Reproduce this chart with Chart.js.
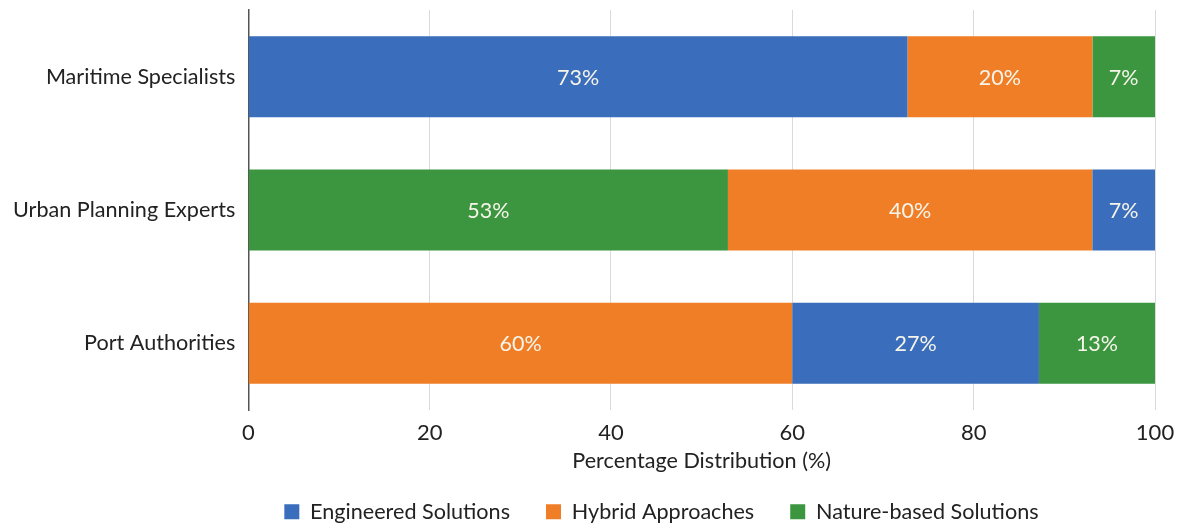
<!DOCTYPE html>
<html lang="en">
<head>
    <meta charset="UTF-8">
    <title>Coastal Adaptation Preferences</title>
    <script src="https://cdn.jsdelivr.net/npm/chart.js"></script>
    <style>
        html, body {
            margin: 0;
            padding: 0;
            background: #fff;
        }
        #wrap {
            width: 1184px;
            height: 524px;
        }
    </style>
</head>
<body>
    <div id="wrap"><canvas id="grafico"></canvas></div>

    <script>
        // categories (top to bottom)
        const categorias = ["Maritime Specialists", "Urban Planning Experts", "Port Authorities"];
        // percentage per group
        const engineered = [72.7, 6.9, 27.2];
        const hybrid = [20.4, 40.2, 60.0];
        const nature = [6.9, 52.9, 12.8];
        // order of segments from left to right in each row
        const ordem = [
            ["engineered", "hybrid", "nature"],
            ["nature", "hybrid", "engineered"],
            ["hybrid", "engineered", "nature"]
        ];
        const xTicks = [0, 20, 40, 60, 80, 100];

        const series = { engineered: engineered, hybrid: hybrid, nature: nature };

        // builds [start, end] for each row, following that row's order
        function intervalos(nome) {
            return categorias.map((c, i) => {
                let inicio = 0;
                for (const k of ordem[i]) {
                    if (k === nome) break;
                    inicio += series[k][i];
                }
                return [inicio, inicio + series[nome][i]];
            });
        }

        // labels inside the bars
        const rotulos = {
            id: "rotulos",
            afterDatasetsDraw(chart) {
                const ctx = chart.ctx;
                ctx.save();
                ctx.font = "21.5px Lato";
                ctx.fillStyle = "#f7f5ea";
                ctx.textAlign = "center";
                ctx.textBaseline = "middle";
                chart.data.datasets.forEach((ds, d) => {
                    const meta = chart.getDatasetMeta(d);
                    meta.data.forEach((bar, i) => {
                        const v = series[ds.chave][i];
                        const cx = (bar.x + bar.base) / 2;
                        ctx.fillText(Math.round(v) + "%", cx, bar.y + 1);
                    });
                });
                ctx.restore();
            }
        };

        // keep the legend short so it sits close to the axis title
        const legendaBaixa = {
            id: "legendaBaixa",
            beforeInit(chart) {
                const fitOriginal = chart.legend.fit;
                chart.legend.fit = function () {
                    fitOriginal.call(this);
                    this.height = 59;
                };
            }
        };

        Chart.defaults.font.family = "Lato";
        Chart.defaults.color = "#222";

        new Chart(document.getElementById("grafico"), {
            type: "bar",
            data: {
                labels: categorias,
                datasets: [
                    { label: "Engineered Solutions", chave: "engineered", data: intervalos("engineered"), backgroundColor: "#3a6dbb" },
                    { label: "Hybrid Approaches", chave: "hybrid", data: intervalos("hybrid"), backgroundColor: "#f07e27" },
                    { label: "Nature-based Solutions", chave: "nature", data: intervalos("nature"), backgroundColor: "#3b963f" }
                ]
            },
            options: {
                indexAxis: "y",
                responsive: true,
                maintainAspectRatio: false,
                animation: false,
                grouped: false,
                categoryPercentage: 0.608,
                barPercentage: 1,
                layout: { padding: { top: 10, right: 29, left: 0, bottom: 0 } },
                scales: {
                    x: {
                        min: 0,
                        max: 100,
                        afterBuildTicks: (axis) => { axis.ticks = xTicks.map(v => ({ value: v })); },
                        afterFit: (axis) => { axis.height = 55; axis.paddingRight = 0; },
                        grid: { color: "#dadada", drawTicks: false },
                        border: { display: false },
                        ticks: { font: { size: 22, lineHeight: 1 }, color: "#222", padding: 12 },
                        title: {
                            display: true,
                            text: "Percentage Distribution (%)",
                            font: { size: 21.6, lineHeight: 1 },
                            color: "#222",
                            padding: { top: 1, bottom: -7 }
                        }
                    },
                    y: {
                        grid: { display: false, drawTicks: false },
                        border: { display: true, color: "#555", width: 1.5 },
                        ticks: { font: { size: 21.6 }, color: "#222", padding: 13 },
                        afterFit: (axis) => { axis.paddingTop = 0; axis.paddingBottom = 0; }
                    }
                },
                plugins: {
                    legend: {
                        position: "bottom",
                        align: "start",
                        fullSize: false,
                        labels: { boxWidth: 15, boxHeight: 15, font: { size: 21.6 }, color: "#222", padding: 36 }
                    },
                    tooltip: { enabled: false }
                }
            },
            plugins: [rotulos, legendaBaixa]
        });
    </script>
</body>
</html>
